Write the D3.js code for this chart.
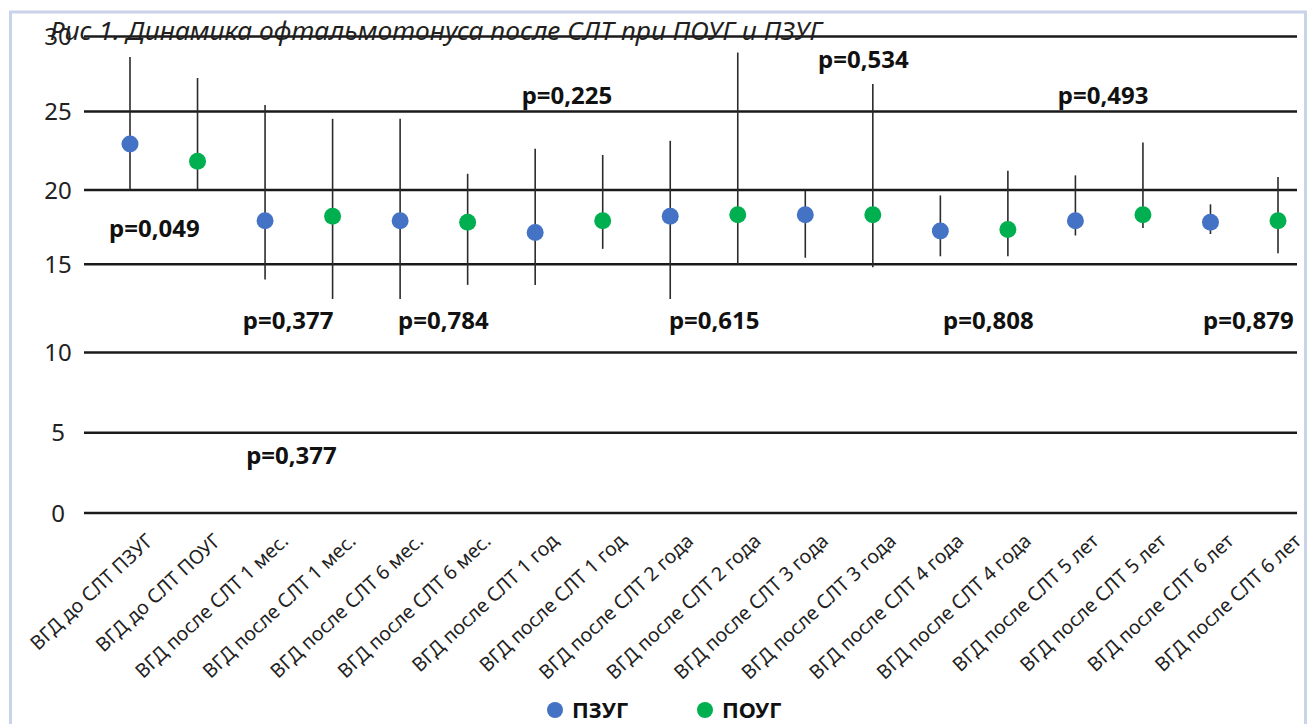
<!DOCTYPE html>
<html>
<head>
<meta charset="utf-8">
<script src="https://cdn.jsdelivr.net/npm/d3@7"></script>
<style>
  body { margin: 0; background: #fff; }
  svg { display: block; }
</style>
</head>
<body>
<svg id="chart"></svg>
<script>
// Chart data
const categories = [
  "ВГД до СЛТ ПЗУГ", "ВГД до СЛТ ПОУГ",
  "ВГД после СЛТ 1 мес.", "ВГД после СЛТ 1 мес.",
  "ВГД после СЛТ 6 мес.", "ВГД после СЛТ 6 мес.",
  "ВГД после СЛТ 1  год", "ВГД после СЛТ 1  год",
  "ВГД после СЛТ 2 года", "ВГД после СЛТ 2 года",
  "ВГД после СЛТ 3 года", "ВГД после СЛТ 3 года",
  "ВГД после СЛТ 4 года", "ВГД после СЛТ 4 года",
  "ВГД после СЛТ 5 лет", "ВГД после СЛТ 5 лет",
  "ВГД после СЛТ 6 лет", "ВГД после СЛТ 6 лет"
];
const groups = [
  "ПЗУГ", "ПОУГ", "ПЗУГ", "ПОУГ", "ПЗУГ", "ПОУГ", "ПЗУГ", "ПОУГ", "ПЗУГ",
  "ПОУГ", "ПЗУГ", "ПОУГ", "ПЗУГ", "ПОУГ", "ПЗУГ", "ПОУГ", "ПЗУГ", "ПОУГ"
];
const meanIOP = [22.9, 21.8, 17.9, 18.2, 17.9, 17.8, 17.1, 17.9, 18.2,
                 18.3, 18.3, 18.3, 17.2, 17.3, 17.9, 18.3, 17.8, 17.9];
const highIOP = [28.6, 27.2, 25.4, 24.5, 24.5, 21.0, 22.6, 22.2, 23.1,
                 28.9, 19.9, 26.8, 19.6, 21.2, 20.9, 23.0, 19.0, 20.8];
const lowIOP  = [20.0, 20.0, 14.1, 13.0, 13.0, 13.8, 13.8, 16.0, 13.0,
                 15.0, 15.4, 14.8, 15.5, 15.5, 16.9, 17.4, 17.0, 15.7];
const yTicks = [0, 5, 10, 15, 20, 25, 30];
const legendNames = ["ПЗУГ", "ПОУГ"];
const pLabels = ["p=0,049", "p=0,377", "p=0,784", "p=0,377", "p=0,225",
                 "p=0,534", "p=0,493", "p=0,615", "p=0,808", "p=0,879"];

// where the p-labels sit: [category offset, y value of baseline]
const pAnchors = [[-0.31, 16.8], [1.67, 11.3], [3.97, 11.3], [1.72, 3.0], [5.8, 25.45],
                  [10.19, 27.9], [13.74, 25.45], [7.98, 11.3], [12.04, 11.3], [15.89, 11.3]];

const colors = { "ПЗУГ": "#4472c4", "ПОУГ": "#00b050" };

const width = 1308, height = 724;
const gridLeft = 84, gridRight = 1297;

const svg = d3.select("#chart").attr("width", width).attr("height", height);

// outer frame
svg.append("rect")
  .attr("x", 10.5).attr("y", 12)
  .attr("width", 1295).attr("height", 740)
  .attr("fill", "none")
  .attr("stroke", "#c9d3ea")
  .attr("stroke-width", 3);

// scales (the figure's value axis is not evenly spaced, so map each tick)
const idx = d3.range(categories.length);
const x = d3.scalePoint().domain(idx).range([130, 1278]);
const y = d3.scaleLinear()
  .domain(yTicks)
  .range([512.5, 432.3, 352, 263.7, 189.5, 111, 36]);

// y axis with gridlines
const yAxis = d3.axisLeft(y)
  .tickValues(yTicks)
  .tickSize(-(gridRight - gridLeft))
  .tickPadding(0);

const yAxisG = svg.append("g")
  .attr("transform", `translate(${gridLeft},0)`)
  .call(yAxis);
yAxisG.select(".domain").remove();
yAxisG.selectAll(".tick line")
  .attr("stroke", "#1a1a1a")
  .attr("stroke-width", 2.5);
yAxisG.selectAll(".tick text")
  .attr("x", -26)
  .attr("dy", "0.36em")
  .attr("text-anchor", "middle")
  .style("font-family", "'Noto Sans', sans-serif")
  .style("font-size", "24px")
  .attr("fill", "#222");

// x axis labels
const xAxis = d3.axisBottom(x)
  .tickSize(0)
  .tickFormat((i) => categories[i]);

const xAxisG = svg.append("g")
  .attr("transform", `translate(0,${y(0)})`)
  .call(xAxis);
xAxisG.select(".domain").remove();
xAxisG.selectAll(".tick text")
  .attr("x", 0).attr("y", 0).attr("dy", 0)
  .attr("transform", "translate(24,30) rotate(-43)")
  .attr("text-anchor", "end")
  .style("font-family", "'Noto Sans', sans-serif")
  .style("font-size", "19.5px")
  .attr("fill", "#222");

// title
svg.append("text")
  .attr("x", 50).attr("y", 40)
  .attr("textLength", 772)
  .attr("lengthAdjust", "spacingAndGlyphs")
  .style("font-family", "'Noto Sans', sans-serif")
  .style("font-style", "italic")
  .style("font-size", "25px")
  .attr("fill", "#231f20")
  .text("Рис 1. Динамика офтальмотонуса после СЛТ при ПОУГ и ПЗУГ");

// error bars
svg.append("g")
  .selectAll("line")
  .data(idx)
  .join("line")
  .attr("x1", (i) => x(i)).attr("x2", (i) => x(i))
  .attr("y1", (i) => y(highIOP[i]))
  .attr("y2", (i) => y(lowIOP[i]))
  .attr("stroke", "#2b2b2b")
  .attr("stroke-width", 1.6);

// mean points
svg.append("g")
  .selectAll("circle")
  .data(idx)
  .join("circle")
  .attr("cx", (i) => x(i))
  .attr("cy", (i) => y(meanIOP[i]))
  .attr("r", 8.5)
  .attr("fill", (i) => colors[groups[i]]);

// p-value annotations
svg.append("g")
  .selectAll("text")
  .data(pLabels)
  .join("text")
  .attr("x", (d, k) => x(0) + pAnchors[k][0] * x.step())
  .attr("y", (d, k) => y(pAnchors[k][1]))
  .style("font-family", "'Noto Sans', sans-serif")
  .style("font-weight", "bold")
  .style("font-size", "24px")
  .attr("fill", "#111")
  .text((d) => d);

// legend
const legend = svg.append("g")
  .selectAll("g")
  .data(legendNames)
  .join("g")
  .attr("transform", (d, k) => `translate(${555 + k * 150},710)`);
legend.append("circle")
  .attr("r", 8)
  .attr("fill", (d) => colors[d]);
legend.append("text")
  .attr("x", 17).attr("y", 7.5)
  .style("font-family", "'Noto Sans', sans-serif")
  .style("font-weight", "bold")
  .style("font-size", "22px")
  .attr("fill", "#111")
  .text((d) => d);
</script>
</body>
</html>
